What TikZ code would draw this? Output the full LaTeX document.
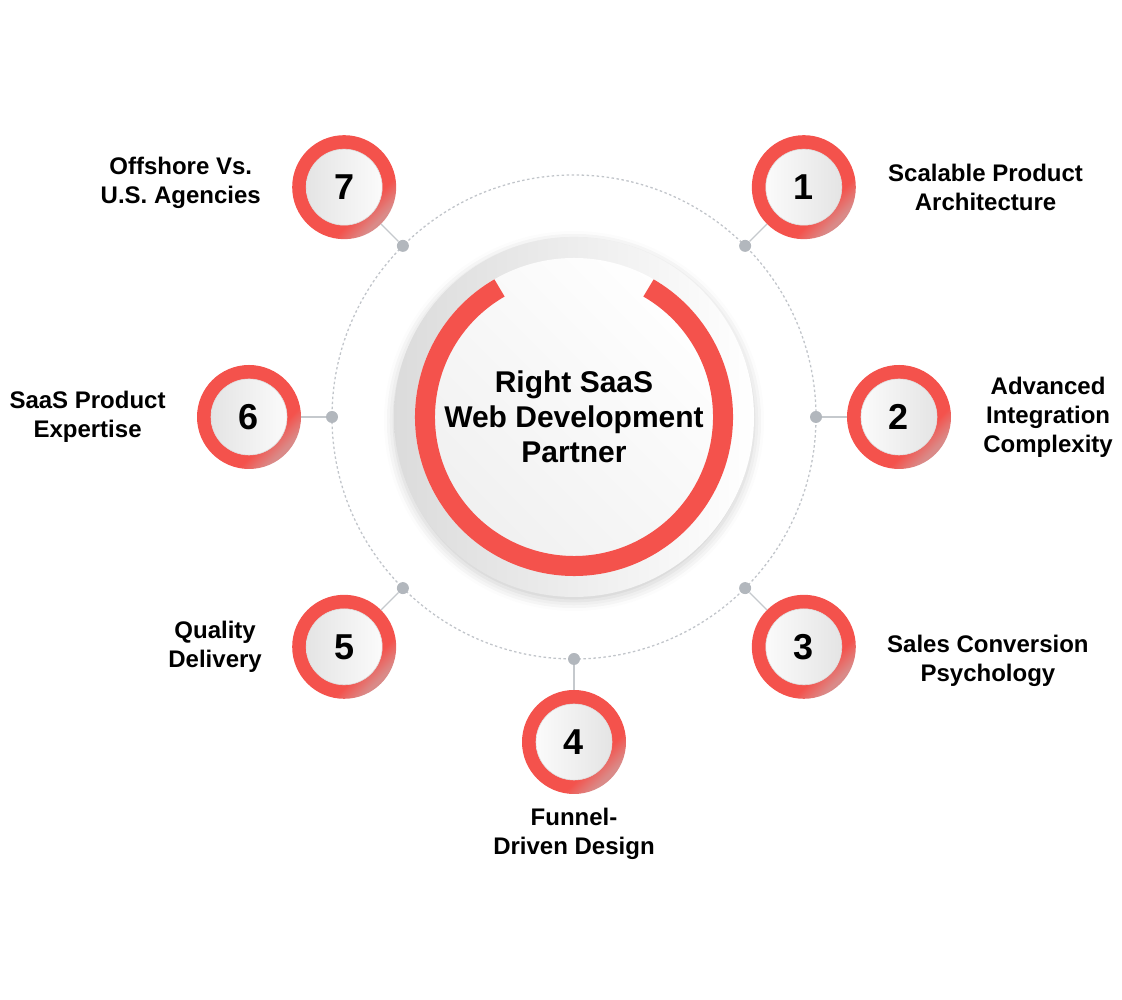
\documentclass[tikz,border=0pt]{standalone}
\usepackage{fontspec}
\setmainfont{Liberation Sans}
\usepackage{tikz}
\usetikzlibrary{calc,positioning,shadows.blur}
\definecolor{ringred}{HTML}{F4524C}
\definecolor{ringfade}{HTML}{DA8A88}
\definecolor{dotgray}{HTML}{B2B7BD}
\definecolor{linegray}{HTML}{C5C9CD}
\definecolor{discgray}{HTML}{E0E0E0}
\pgfdeclareverticalshading{ringshade}{100bp}{color(0bp)=(ringfade); color(27bp)=(ringfade);
  color(36bp)=(ringred); color(100bp)=(ringred)}

\begin{document}
\begin{tikzpicture}[x=1pt,y=1pt,
  num node/.style={circle,minimum size=104pt,inner sep=0pt,
    shading=ringshade,shading angle=45,
    font=\fontsize{36}{36}\selectfont\bfseries,
    path picture={\shade[top color=white,bottom color=discgray,shading angle=#1]
      (path picture bounding box.center) circle (38pt);
      \draw[gray!25,line width=0.6pt] (path picture bounding box.center) circle (38pt);}},
  num node/.default=90,
  dot node/.style={circle,fill=dotgray,minimum size=12pt,inner sep=0pt},
  text node/.style={align=center,inner sep=0pt,font=\fontsize{24}{29}\selectfont\bfseries},
  link/.style={linegray,line width=1.2pt}]

  \useasboundingbox (0,0) rectangle (1122,1000);
  \coordinate (c) at (574,583);

  % dotted ring and hub
  \draw[dotgray!80,line width=1.3pt,dash pattern=on 2.5pt off 2.5pt] (c) circle (242pt);
  \node[circle,minimum size=360pt,left color=gray!28,right color=white,
    blur shadow={shadow xshift=0pt,shadow yshift=-4pt,shadow blur radius=10pt,shadow opacity=20}] (hub) at (c) {};
  \shade[top color=white,bottom color=gray!12,shading angle=-45] (c) circle (159pt);
  \draw[ringred,line width=20pt] ($(c)+(120:149)$) arc[start angle=120,end angle=420,radius=149pt];
  \node[font=\fontsize{30}{35}\selectfont\bfseries,align=center] (title) at (c)
    {Right SaaS\\Web Development\\Partner};

  \node[num node] (1) at ($(c)+(45:325)$) {1};
  \node[num node] (2) at ($(c)+(0:325)$) {2};
  \node[num node] (3) at ($(c)+(-45:325)$) {3};
  \node[num node] (4) at ($(c)+(-90:325)$) {4};
  \node[num node=-90] (5) at ($(c)+(-135:325)$) {5};
  \node[num node=-90] (6) at ($(c)+(180:325)$) {6};
  \node[num node=-90] (7) at ($(c)+(135:325)$) {7};

  \node[dot node] (d1) at ($(c)+(45:242)$) {};
  \node[dot node] (d2) at ($(c)+(0:242)$) {};
  \node[dot node] (d3) at ($(c)+(-45:242)$) {};
  \node[dot node] (d4) at ($(c)+(-90:242)$) {};
  \node[dot node] (d5) at ($(c)+(-135:242)$) {};
  \node[dot node] (d6) at ($(c)+(180:242)$) {};
  \node[dot node] (d7) at ($(c)+(135:242)$) {};

  \draw[link] (d1) -- (1);
  \draw[link] (d2) -- (2);
  \draw[link] (d3) -- (3);
  \draw[link] (d4) -- (4);
  \draw[link] (d5) -- (5);
  \draw[link] (d6) -- (6);
  \draw[link] (d7) -- (7);

  \node[text node,right=32pt of 1] (l1) {Scalable Product\\Architecture};
  \node[text node,right=32pt of 2] (l2) {Advanced\\Integration\\Complexity};
  \node[text node,right=31pt of 3,yshift=-14pt] (l3) {Sales Conversion\\Psychology};
  \node[text node,below=14pt of 4] (l4) {Funnel-\\Driven Design};
  \node[text node,left=30pt of 5] (l5) {Quality\\Delivery};
  \node[text node,left=31pt of 6] (l6) {SaaS Product\\Expertise};
  \node[text node,left=31pt of 7,yshift=4pt] (l7) {Offshore Vs.\\U.S. Agencies};

\end{tikzpicture}
\end{document}
